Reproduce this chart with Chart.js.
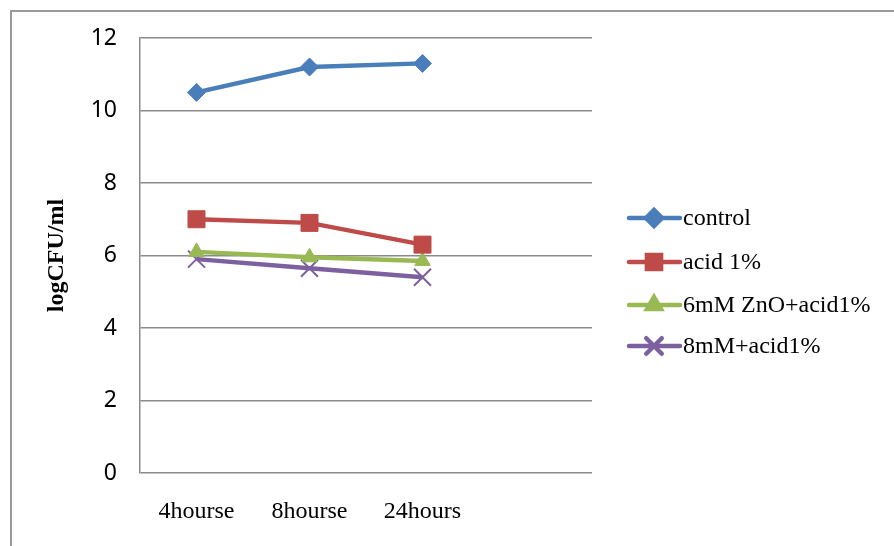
<!DOCTYPE html>
<html lang="en">
<head>
    <meta charset="UTF-8">
    <title>logCFU/ml</title>
    <script src="https://cdn.jsdelivr.net/npm/chart.js"></script>
    <style>
        html, body {
            margin: 0;
            padding: 0;
            background: #ffffff;
            overflow: hidden;
        }
        #wrap {
            position: relative;
            width: 894px;
            height: 546px;
        }
        #frame {
            position: absolute;
            left: 10px;
            top: 10px;
            width: 900px;
            height: 560px;
            border-left: 2px solid #9a9a9a;
            border-top: 2px solid #9a9a9a;
            box-sizing: border-box;
        }
        canvas {
            position: absolute;
            left: 0;
            top: 0;
        }
    </style>
</head>
<body>
    <div id="wrap">
        <div id="frame"></div>
        <canvas id="myChart" width="894" height="546"></canvas>
    </div>
    <script>
        const timeLabels = ['4hourse', '8hourse', '24hours', ''];
        const seriesNames = ['control', 'acid 1%', '6mM ZnO+acid1%', '8mM+acid1%'];
        const controlValues = [10.5, 11.2, 11.3];
        const acidValues = [7.0, 6.9, 6.3];
        const znoValues = [6.1, 5.95, 5.85];
        const mm8Values = [5.9, 5.65, 5.4];
        const yTicks = [0, 2, 4, 6, 8, 10, 12];

        const colors = ['#4a7ebb', '#be4b48', '#98b954', '#7d60a0'];
        const markers = ['rectRot', 'rect', 'triangle', 'crossRot'];
        const markerSize = [9, 12, 9, 12];
        const serif = '"Liberation Serif", "Times New Roman", serif';

        function makeDataset(i, values) {
            return {
                label: seriesNames[i],
                data: values,
                borderColor: colors[i],
                backgroundColor: colors[i],
                borderWidth: 4.5,
                pointStyle: markers[i],
                pointRadius: markerSize[i],
                pointHoverRadius: markerSize[i],
                pointBorderColor: colors[i],
                pointBackgroundColor: colors[i],
                pointBorderWidth: markers[i] === 'crossRot' ? 2 : 1,
                fill: false,
                tension: 0
            };
        }

        // legend drawn next to the plot: line + marker + serif text
        const sideLegend = {
            id: 'sideLegend',
            afterDraw(chart) {
                const ctx = chart.ctx;
                const rows = [218, 262, 305, 346];
                chart.data.datasets.forEach((ds, i) => {
                    const y = rows[i];
                    ctx.save();
                    ctx.strokeStyle = ds.borderColor;
                    ctx.lineWidth = 4.5;
                    ctx.lineCap = 'round';
                    ctx.beginPath();
                    ctx.moveTo(629, y);
                    ctx.lineTo(680, y);
                    ctx.stroke();
                    ctx.fillStyle = ds.pointBackgroundColor;
                    ctx.strokeStyle = ds.pointBorderColor;
                    Chart.helpers.drawPoint(ctx, {
                        pointStyle: ds.pointStyle,
                        radius: ds.pointStyle === 'rect' ? 10 : (ds.pointStyle === 'crossRot' ? 11 : 8),
                        rotation: 0,
                        borderWidth: ds.pointBorderWidth
                    }, 654, y);
                    ctx.fillStyle = '#000000';
                    ctx.font = '24px ' + serif;
                    ctx.textBaseline = 'middle';
                    ctx.textAlign = 'left';
                    ctx.fillText(ds.label, 683, y + 1);
                    ctx.restore();
                });
            }
        };

        const ctx = document.getElementById('myChart').getContext('2d');
        const myChart = new Chart(ctx, {
            type: 'line',
            data: {
                labels: timeLabels,
                datasets: [
                    makeDataset(0, controlValues),
                    makeDataset(1, acidValues),
                    makeDataset(2, znoValues),
                    makeDataset(3, mm8Values)
                ]
            },
            options: {
                responsive: false,
                animation: false,
                devicePixelRatio: 1,
                layout: {
                    padding: { left: 10, top: 38, right: 302, bottom: 0 }
                },
                plugins: {
                    legend: { display: false },
                    tooltip: { enabled: false }
                },
                scales: {
                    x: {
                        type: 'category',
                        offset: true,
                        afterFit(scale) { scale.height = 73; },
                        grid: { display: false, drawTicks: false },
                        border: { display: false },
                        ticks: {
                            padding: 24,
                            maxRotation: 0,
                            autoSkip: false,
                            color: '#000000',
                            font: { family: serif, size: 24 }
                        }
                    },
                    y: {
                        min: 0,
                        max: 12,
                        afterFit(scale) { scale.width = 130; },
                        afterBuildTicks(scale) {
                            scale.ticks = yTicks.map(v => ({ value: v }));
                        },
                        grid: {
                            color: '#8a8a8a',
                            lineWidth: 1.5,
                            drawTicks: false
                        },
                        border: { display: true, color: '#8a8a8a', width: 1.5 },
                        ticks: {
                            padding: 23,
                            color: '#000000',
                            font: { family: '"Noto Sans", "Open Sans", sans-serif', size: 23 }
                        },
                        title: {
                            display: true,
                            text: 'logCFU/ml',
                            color: '#000000',
                            padding: { top: 32, bottom: 0 },
                            font: { family: serif, size: 24, weight: 'bold' }
                        }
                    }
                }
            },
            plugins: [sideLegend]
        });
    </script>
</body>
</html>
